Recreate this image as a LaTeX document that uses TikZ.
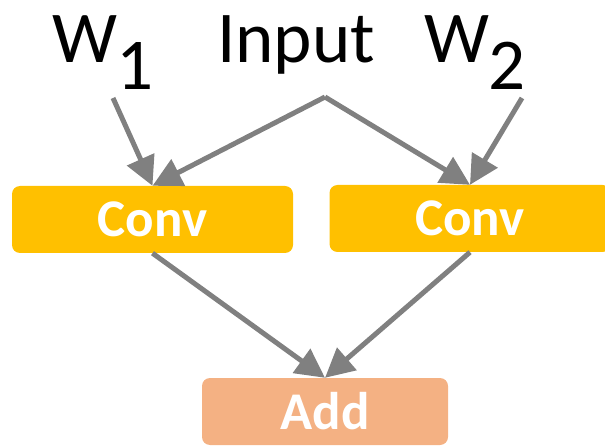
\documentclass[tikz,border=0pt]{standalone}
\usepackage{fontspec}
\setmainfont{Carlito}
\usetikzlibrary{arrows.meta}
\definecolor{convfill}{HTML}{FFC000}
\definecolor{addfill}{HTML}{F4B183}
\definecolor{arrowgray}{HTML}{808080}
\tikzset{
  opbox/.style={rounded corners=8pt, minimum width=281pt, minimum height=67pt,
    inner sep=0pt, text=white, font=\fontsize{53}{60}\selectfont\bfseries},
  convbox/.style={opbox, fill=convfill},
  addbox/.style={opbox, fill=addfill, minimum width=246pt},
  toplabel/.style={anchor=base, inner sep=0pt, font=\fontsize{73}{80}\selectfont},
  flow/.style={draw=arrowgray, line width=5pt,
    -{Triangle[length=29pt, width=29pt]}},
}
\begin{document}
\begin{tikzpicture}[x=1pt, y=1pt]
  \useasboundingbox (0,0) rectangle (605,-446);
  \clip (0,0) rectangle (605,-446);

  % inputs
  \node[toplabel] (inp) at (296,-63) {Input};
  \node[toplabel] (w1) at (103,-63) {W\raisebox{-27pt}{1}};
  \node[toplabel] (w2) at (475,-63) {W\raisebox{-27pt}{2}};

  % operations
  \node[convbox] (c1) at (152.5,-219.5) {Conv};
  \node[convbox] (c2) at (470,-218.5) {Conv};
  \node[addbox]  (add) at (325,-411.5) {Add};

  % connector tails below the labels
  \coordinate (w1t) at (113,-98);
  \coordinate (inpt) at (325,-97);
  \coordinate (w2t) at (522,-98);

  \draw[flow] (w1t) -- (c1.north);
  \draw[flow] (inpt) -- (c1.north);
  \draw[flow] (inpt) -- (c2.north);
  \draw[flow] (w2t) -- (c2.north);
  \draw[flow] (c1.south) -- (add.north);
  \draw[flow] (c2.south) -- (add.north);
\end{tikzpicture}
\end{document}
